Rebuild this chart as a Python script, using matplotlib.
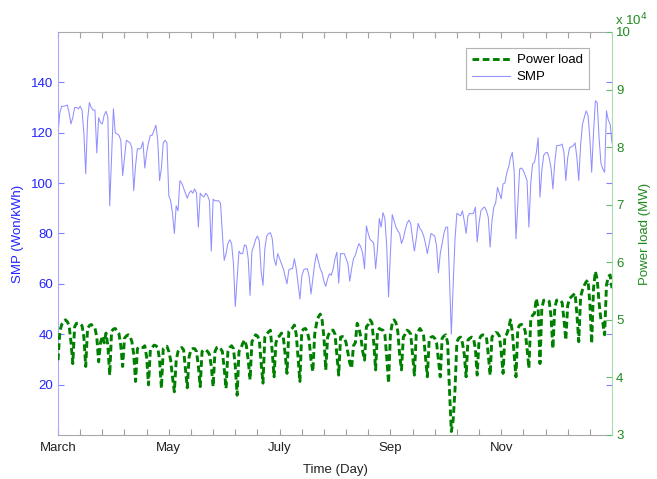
import numpy as np
import matplotlib
matplotlib.use("Agg")
import matplotlib.pyplot as plt
from matplotlib.ticker import FixedLocator, FuncFormatter

plt.rcParams['font.family'] = ['Liberation Sans', 'DejaVu Sans']

# ---- daily data, day 0 = 1 March ----
# system marginal price (Won/kWh)
smp = [
    120, 128, 130.5, 130.5, 130.7, 131, 128, 123.5,
    126, 130, 130, 129.5, 130.5, 129, 120, 103.7,
    125, 132, 130, 129, 129, 112, 126,
    124, 123.5, 127, 128.5, 126, 91,
    110, 129.5, 120, 119.5, 119, 117, 103,
    110, 117, 116.5, 116, 114, 97, 107,
    113.7, 113.5, 114, 116.4, 106, 112, 116,
    119, 119, 121, 123, 117, 101, 106,
    116, 117, 116, 95, 93, 88, 80,
    91, 89, 101, 100, 98, 96, 94,
    96, 97, 96, 97.7, 96, 82.5, 96,
    95, 94.5, 96, 95, 93, 73, 93.6,
    93, 93, 93, 92, 80, 69.3, 72,
    76, 77.5, 76, 68, 51, 62,
    73, 72, 72, 75.5, 75, 70, 55.4,
    73, 75, 77.6, 79, 77, 65, 59.4,
    74, 79, 80, 80.3, 78, 70,
    67.3, 72, 70, 68, 66, 63, 60,
    65.5, 66, 66, 70, 66, 60, 54,
    63, 65.5, 66, 66, 63, 56, 62,
    68, 72, 69, 66, 64.4, 61, 59,
    62, 64, 63.4, 66, 70, 72.6, 60.3,
    72, 72, 72, 70, 68, 61, 66,
    70, 71.3, 74, 76, 74.6, 72, 66,
    83, 80, 77.6, 77, 76, 66,
    74, 86, 82.5, 88.3, 86, 75, 54.8,
    72, 87.5, 85, 82.5, 81, 80, 76,
    78, 81.4, 84, 85.3, 84, 78, 73,
    78, 84, 82, 81, 79, 76, 72,
    76, 80, 79.5, 79, 75, 64.4, 72,
    76, 80, 82.5, 82.5, 62, 40, 60, 78, 88,
    87.5, 87, 89, 85, 80,
    87, 88, 87.8, 88, 90.5, 76.6,
    84, 89, 90, 90.5, 89, 86.4, 74.6,
    85, 90.5, 92, 98.3, 96, 93.8, 99.7,
    100, 104, 106.3, 110, 112.2, 105, 77.9,
    92, 105.6, 106, 105, 103, 101, 82.5,
    100, 107.6, 108.3, 112, 118, 94.4,
    105, 111, 112, 112.2, 110, 106, 97.7,
    108, 114.8, 115, 115, 115.5, 112, 101,
    110, 114, 114.5, 114.8, 116, 110, 101,
    115, 123.4, 126, 128.7, 127, 118, 104.3,
    120, 132.7, 132, 118, 108, 105.6, 104.3,
    128.7, 125, 123.4, 116,
]

# daily power load (MW)
load = [
    43000, 48000, 49200, 49500, 50000, 49700, 49000, 46200,
    42400, 48800, 49400, 49400, 49300, 49000, 47000, 41900,
    48500, 49000, 49200, 48800, 48600, 47000, 42700,
    46000, 47200, 46000, 47700, 45500, 40400,
    48000, 48400, 48500, 48000, 47600, 45500, 41900,
    46800, 47200, 47400, 47200, 46200, 44000, 39300,
    45000, 45300, 45200, 45200, 45500, 43500, 38700,
    44800, 45200, 45600, 45500, 45200, 43000, 38100,
    45000, 45300, 45400, 44500, 43000, 40000, 37500,
    43000, 44500, 45000, 45200, 44800, 41500, 38200,
    43600, 44800, 45000, 45000, 44500, 42000, 38400,
    44500, 44800, 44800, 44500, 44000, 42000, 38400,
    44500, 45200, 45300, 45000, 44500, 41500, 38100,
    44500, 45200, 45500, 45000, 42000, 36900,
    44500, 45000, 45900, 46500, 45500, 43000, 39600,
    46200, 46800, 47400, 47200, 46500, 42500, 39000,
    47000, 47500, 47900, 48200, 44500, 40100,
    46000, 47000, 47200, 47700, 47000, 44000, 40700,
    48000, 48300, 48600, 49100, 47500, 43500, 39300,
    48000, 48400, 48500, 48000, 46500, 43000, 41000,
    47500, 49400, 50500, 51000, 50000, 47000, 41300,
    47000, 47800, 48200, 48200, 47500, 44000, 40400,
    47000, 47100, 47000, 46000, 44200, 42500, 41600,
    45500, 46000, 49400, 48500, 47000, 44500, 43000,
    48800, 49200, 50000, 49500, 46000, 41300,
    48000, 48500, 48300, 48200, 47500, 43500, 39000,
    47500, 49400, 50000, 49500, 48000, 44000, 41300,
    47000, 47500, 48200, 48000, 47500, 44000, 40400,
    47500, 48000, 48500, 48000, 47200, 43500, 40100,
    46500, 47000, 47100, 46800, 46000, 43000, 40100,
    46800, 47200, 47400, 46000, 37800, 30600, 32600, 38000, 46200,
    46800, 47000, 46000, 44000, 40100,
    46500, 46800, 47000, 46800, 45000, 40400,
    46500, 47200, 47400, 47300, 47000, 44000, 40400,
    47000, 47500, 47800, 47700, 47200, 44500, 40700,
    47200, 47500, 48500, 50000, 48000, 44000, 40100,
    48500, 49100, 49200, 49000, 48000, 45000, 41600,
    50000, 50800, 51100, 53700, 52000, 42400,
    52000, 53400, 53500, 53400, 53200, 50500, 45000,
    52000, 53400, 53500, 53400, 53000, 50000, 46500,
    52500, 53700, 54000, 54300, 54600, 51000, 46200,
    54000, 55200, 56000, 56600, 56900, 53000, 45900,
    55500, 58400, 57000, 53000, 50000, 49500, 47400,
    56000, 57500, 57800, 55500,
]

days = np.arange(len(smp))
month_ticks = [0, 60, 120, 180, 240]
month_names = ['March', 'May', 'July', 'Sep', 'Nov']

blue = '#2323ff'
green = '#1f8a1f'

fig = plt.figure(figsize=(6.57, 4.79), dpi=100)
ax1 = fig.add_axes([0.0883, 0.0919, 0.8432, 0.8413])
ax2 = ax1.twinx()

l_smp, = ax1.plot(days, smp, color='#9090ff', lw=0.75, label='SMP')
l_load, = ax2.plot(days, load, color='#008000', lw=2.1,
                   dashes=(2.3, 1.2), label='Power load')

# left axis (SMP)
ax1.set_xlim(0, 300)
ax1.set_ylim(0, 160)
ax1.set_yticks(np.arange(20, 141, 20))
ax1.set_ylabel('SMP (Won/kWh)', color=blue, fontsize=9.5, labelpad=5)
ax1.tick_params(axis='y', direction='in', length=4, color='#8080ff',
                labelcolor=blue, labelsize=9.5, right=True)

# x axis: a tick every 12 days, month names every 60 days
ax1.xaxis.set_major_locator(FixedLocator(np.arange(0, 301, 12)))
ax1.xaxis.set_major_formatter(FuncFormatter(
    lambda v, p: month_names[month_ticks.index(int(round(v)))] if int(round(v)) in month_ticks else ''))
ax1.tick_params(axis='x', direction='in', length=4, color='#a0a0a0',
                labelcolor='#222222', labelsize=9.5, top=True, pad=5)
ax1.set_xlabel('Time (Day)', fontsize=9.5, color='#222222', labelpad=7)

# right axis (power load)
ax2.set_ylim(30000, 100000)
ax2.set_yticks(np.arange(30000, 100001, 10000))
ax2.yaxis.set_major_formatter(FuncFormatter(lambda v, p: '%d' % round(v / 1e4)))
ax2.tick_params(axis='y', direction='in', length=4, color='#66bb66',
                labelcolor=green, labelsize=9.5, pad=3)
ax2.set_ylabel('Power load (MW)', color=green, fontsize=9.5, labelpad=6)
fig.text(0.936, 0.947, r'x 10$^4$', color=green, fontsize=9.5)

for name in ['top', 'bottom']:
    ax1.spines[name].set_color('#a8a8a8')
ax1.spines['left'].set_color('#a8a8ff')
ax1.spines['right'].set_visible(False)
ax2.spines['right'].set_color('#a8dca8')
for name in ['left', 'top', 'bottom']:
    ax2.spines[name].set_visible(False)

leg = ax2.legend([l_load, l_smp], ['Power load', 'SMP'], loc='upper right',
                 bbox_to_anchor=(0.958, 0.960), borderaxespad=0, fontsize=9.5,
                 fancybox=False, edgecolor='#a0a0a0', handlelength=2.9,
                 borderpad=0.45, labelspacing=0.35, handletextpad=0.5)
leg.get_frame().set_linewidth(0.8)

fig.savefig('out.png', dpi=100)
